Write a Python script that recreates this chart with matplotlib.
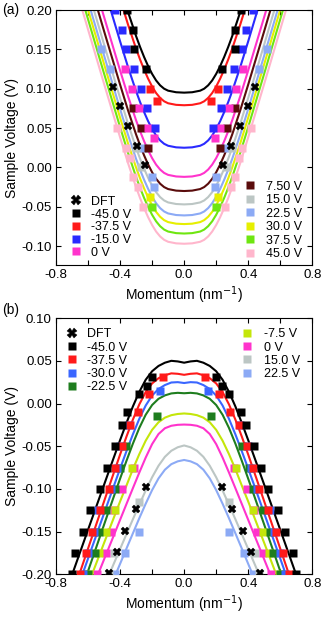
import numpy as np
import matplotlib

matplotlib.use("Agg")
import matplotlib.pyplot as plt
from matplotlib.lines import Line2D

# ---- panel (a): n-type dispersion, half curves (k >= 0), mirrored when drawn
k_a = [0, 0.05, 0.1, 0.125, 0.15, 0.175, 0.2, 0.225, 0.25, 0.275, 0.3, 0.35, 0.4, 0.5, 0.6, 0.7]
a_black = [0.095, 0.0955, 0.0975, 0.1, 0.1043, 0.1105, 0.1188, 0.1288, 0.1403, 0.153, 0.1668, 0.1973, 0.2303, 0.2983, 0.3673, 0.4363]
a_red = [0.079, 0.0795, 0.0815, 0.084, 0.0883, 0.0945, 0.1028, 0.1128, 0.1243, 0.137, 0.1508, 0.1813, 0.2143, 0.2823, 0.3513, 0.4203]
a_blue = [0.025, 0.0255, 0.0275, 0.03, 0.0343, 0.0405, 0.0488, 0.0588, 0.0703, 0.083, 0.0968, 0.1273, 0.1603, 0.2283, 0.2973, 0.3663]
a_magenta = [-0.012, -0.0115, -0.0095, -0.007, -0.0027, 0.0035, 0.0118, 0.0218, 0.0333, 0.046, 0.0598, 0.0903, 0.1233, 0.1913, 0.2603, 0.3293]
a_brown = [-0.03, -0.0295, -0.0275, -0.025, -0.0207, -0.0145, -0.0062, 0.0038, 0.0153, 0.028, 0.0418, 0.0723, 0.1053, 0.1733, 0.2423, 0.3113]
a_gray = [-0.047, -0.0465, -0.0445, -0.042, -0.0377, -0.0315, -0.0232, -0.0132, -0.0017, 0.011, 0.0248, 0.0553, 0.0883, 0.1563, 0.2253, 0.2943]
a_lblue = [-0.061, -0.0605, -0.0585, -0.056, -0.0517, -0.0455, -0.0372, -0.0272, -0.0157, -0.003, 0.0108, 0.0413, 0.0743, 0.1423, 0.2113, 0.2803]
a_yellow = [-0.072, -0.0715, -0.0695, -0.067, -0.0627, -0.0565, -0.0482, -0.0382, -0.0267, -0.014, -0.0002, 0.0303, 0.0633, 0.1313, 0.2003, 0.2693]
a_green = [-0.084, -0.0835, -0.0815, -0.079, -0.0747, -0.0685, -0.0602, -0.0502, -0.0387, -0.026, -0.0122, 0.0183, 0.0513, 0.1193, 0.1883, 0.2573]
a_pink = [-0.097, -0.0965, -0.0945, -0.092, -0.0877, -0.0815, -0.0732, -0.0632, -0.0517, -0.039, -0.0252, 0.0053, 0.0383, 0.1063, 0.1753, 0.2443]

# measured peak positions (|k|, V), drawn on both sides
a_black_pts = [(0.357, 0.200), (0.320, 0.175), (0.315, 0.150), (0.238, 0.125)]
a_red_pts = [(0.210, 0.100), (0.167, 0.085)]
a_blue_pts = [(0.430, 0.200), (0.387, 0.175), (0.360, 0.150), (0.310, 0.125), (0.270, 0.100), (0.230, 0.075), (0.180, 0.050)]
a_magenta_pts = [(0.370, 0.125), (0.325, 0.100), (0.280, 0.075), (0.225, 0.050), (0.190, 0.0375)]
a_brown_pts = [(0.320, 0.075), (0.270, 0.050), (0.225, 0.025)]
a_gray_pts = [(0.300, 0.025), (0.270, 0.000)]
a_lblue_pts = [(0.520, 0.150), (0.465, 0.125), (0.255, 0.025), (0.200, -0.0125), (0.190, -0.025)]
a_yellow_pts = [(0.210, -0.0375)]
a_green_pts = [(0.200, -0.050)]
a_pink_pts = [(0.420, 0.050), (0.360, 0.025), (0.340, 0.0125), (0.320, -0.0125), (0.290, -0.025), (0.255, -0.050)]
a_dft = [(0.445, 0.1025), (0.398, 0.0775), (0.348, 0.0525), (0.292, 0.027), (0.243, 0.003)]

a_labels = ["-45.0 V", "-37.5 V", "-15.0 V", "0 V", "7.50 V", "15.0 V", "22.5 V", "30.0 V", "37.5 V", "45.0 V"]

# ---- panel (b): p-type dispersion
k_b = [0, 0.04, 0.08, 0.12, 0.16, 0.2, 0.24, 0.28, 0.32, 0.36, 0.4, 0.45, 0.5, 0.6, 0.7, 0.8]
b_black = [0.048, 0.0495, 0.0502, 0.048, 0.0442, 0.038, 0.028, 0.0138, -0.0033, -0.0226, -0.0428, -0.0688, -0.0951, -0.1478, -0.2008, -0.2538]
b_red = [0.0338, 0.035, 0.0355, 0.0333, 0.0298, 0.0237, 0.0136, -0.0009, -0.0187, -0.0386, -0.0597, -0.087, -0.1146, -0.1699, -0.2254, -0.2809]
b_blue = [0.0242, 0.0252, 0.0248, 0.0218, 0.0172, 0.0095, -0.0022, -0.0178, -0.036, -0.0557, -0.0762, -0.1023, -0.1287, -0.1816, -0.2346, -0.2876]
b_green = [0.0122, 0.0127, 0.012, 0.0097, 0.0057, -0.0016, -0.013, -0.0285, -0.0469, -0.067, -0.088, -0.1148, -0.1419, -0.1963, -0.2508, -0.3053]
b_yg = [-0.0115, -0.0121, -0.0135, -0.0164, -0.0218, -0.0307, -0.0434, -0.0592, -0.0768, -0.096, -0.1147, -0.139, -0.1633, -0.2123, -0.2613, -0.3103]
b_magenta = [-0.0245, -0.0248, -0.0259, -0.0288, -0.0356, -0.0474, -0.0632, -0.0808, -0.0991, -0.1176, -0.1362, -0.1595, -0.1826, -0.2291, -0.2756, -0.3221]
b_gray = [-0.049, -0.0511, -0.0552, -0.0623, -0.0728, -0.0863, -0.1018, -0.1184, -0.1355, -0.1529, -0.1704, -0.1923, -0.2143, -0.2583, -0.3023, -0.3463]
b_lblue = [-0.066, -0.0676, -0.0709, -0.0774, -0.0876, -0.1013, -0.1173, -0.1343, -0.152, -0.1698, -0.1878, -0.2102, -0.2327, -0.2777, -0.3227, -0.3677]

b_black_pts = [(0.198, 0.031), (0.234, 0.021), (0.279, 0.011), (0.358, -0.010), (0.388, -0.025), (0.434, -0.050), (0.479, -0.075), (0.524, -0.100), (0.588, -0.125), (0.630, -0.150), (0.679, -0.175), (0.700, -0.200)]
b_red_pts = [(0.132, 0.031), (0.218, 0.011), (0.288, -0.010), (0.340, -0.025), (0.390, -0.050), (0.431, -0.075), (0.467, -0.100), (0.525, -0.125), (0.575, -0.150), (0.615, -0.175), (0.652, -0.200)]
b_blue_pts = [(0.150, 0.015), (0.346, -0.025), (0.400, -0.050), (0.420, -0.075), (0.456, -0.100), (0.537, -0.125), (0.560, -0.150), (0.600, -0.175), (0.630, -0.200)]
b_green_pts = [(0.170, -0.015), (0.360, -0.050), (0.402, -0.075), (0.431, -0.100), (0.490, -0.125), (0.533, -0.150), (0.555, -0.175), (0.600, -0.200)]
b_yg_pts = [(0.325, -0.075), (0.430, -0.125), (0.490, -0.150), (0.530, -0.175), (0.595, -0.200)]
b_magenta_pts = [(0.310, -0.075), (0.390, -0.100), (0.435, -0.125), (0.455, -0.150), (0.490, -0.175), (0.544, -0.200)]
b_gray_pts = [(0.280, -0.115), (0.440, -0.175), (0.470, -0.200)]
b_lblue_pts = [(0.280, -0.150), (0.372, -0.175), (0.432, -0.200)]
b_dft = [(0.235, -0.098), (0.300, -0.124), (0.367, -0.149), (0.420, -0.174), (0.471, -0.199)]

b_labels = ["-45.0 V", "-37.5 V", "-30.0 V", "-22.5 V", "-7.5 V", "0 V", "15.0 V", "22.5 V"]

BLACK, RED, BLUE, MAGENTA = "#000000", "#ff1a1a", "#2a2aff", "#ff33cc"
BROWN, GRAY, LBLUE = "#5a0c0c", "#bcc6c4", "#8caaf5"
YELLOW, GREEN, PINK = "#e6ef00", "#6ee610", "#ffb6cc"
BBLUE, DGREEN, YGREEN = "#3a66ff", "#1e7d1e", "#c4e60a"

plt.rcParams["font.family"] = ["Liberation Sans", "DejaVu Sans"]
plt.rcParams["axes.unicode_minus"] = False
plt.rcParams["xtick.direction"] = "in"
plt.rcParams["ytick.direction"] = "in"
plt.rcParams["xtick.top"] = True
plt.rcParams["ytick.right"] = True


def mirror(k, v):
    k = np.asarray(k)
    v = np.asarray(v)
    return np.r_[-k[::-1], k[1:]], np.r_[v[::-1], v[1:]]


def both_sides(pts):
    p = np.asarray(pts)
    return np.r_[-p[:, 0], p[:, 0]], np.r_[p[:, 1], p[:, 1]]


def style_axes(ax, ylim, yticks):
    ax.set_xlim(-0.8, 0.8)
    ax.set_ylim(*ylim)
    ax.set_xticks([-0.8, -0.4, 0.0, 0.4, 0.8])
    ax.set_xticks([-0.6, -0.2, 0.2, 0.6], minor=True)
    ax.set_yticks(yticks)
    ax.set_xticklabels(["%.1f" % t for t in [-0.8, -0.4, 0.0, 0.4, 0.8]])
    ax.set_yticklabels(["%.2f" % t for t in yticks])
    ax.tick_params(which="both", length=3.5, width=0.8, labelsize=9.5, pad=3)
    for s in ax.spines.values():
        s.set_linewidth(0.8)
    ax.set_xlabel("Momentum (nm$^{-1}$)", fontsize=10, labelpad=2)
    ax.set_ylabel("Sample Voltage (V)", fontsize=10, labelpad=2)


def square(color):
    return Line2D([], [], ls="none", marker="s", ms=5.5, color=color, mec="none")


dft_handle = Line2D([], [], ls="none", marker="X", ms=6.5, color="black", mec="black", mew=0.3)

fig = plt.figure(figsize=(3.28, 6.18), dpi=100)
ax_a = fig.add_axes([0.1707, 0.5712, 0.7814, 0.4126])
ax_b = fig.add_axes([0.1707, 0.0707, 0.7814, 0.4142])

# panel (a)
a_series = [
    (a_black, a_black_pts, BLACK), (a_red, a_red_pts, RED), (a_blue, a_blue_pts, BLUE),
    (a_magenta, a_magenta_pts, MAGENTA), (a_brown, a_brown_pts, BROWN), (a_gray, a_gray_pts, GRAY),
    (a_lblue, a_lblue_pts, LBLUE), (a_yellow, a_yellow_pts, YELLOW), (a_green, a_green_pts, GREEN),
    (a_pink, a_pink_pts, PINK),
]
for curve, pts, color in a_series[::-1]:
    x, y = mirror(k_a, curve)
    ax_a.plot(x, y, color=color, lw=1.5, zorder=2)
for curve, pts, color in a_series[::-1]:
    x, y = both_sides(pts)
    ax_a.plot(x, y, ls="none", marker="s", ms=5.2, color=color, mec="none", zorder=3)
x, y = both_sides(a_dft)
ax_a.plot(x, y, ls="none", marker="X", ms=6, color="black", mec="black", mew=0.3, zorder=4)
style_axes(ax_a, (-0.124, 0.2), [0.20, 0.15, 0.10, 0.05, 0.00, -0.05, -0.10])

colors_a = [c for _, _, c in a_series]
leg1 = ax_a.legend([dft_handle] + [square(c) for c in colors_a[:4]], ["DFT"] + a_labels[:4],
                   loc="lower left", bbox_to_anchor=(0.015, -0.015), frameon=False, fontsize=9,
                   handlelength=1.0, handletextpad=0.7, labelspacing=0.06, borderpad=0.3)
ax_a.add_artist(leg1)
ax_a.legend([square(c) for c in colors_a[4:]], a_labels[4:],
            loc="lower right", bbox_to_anchor=(1.0, -0.02), frameon=False, fontsize=9,
            handlelength=1.0, handletextpad=0.8, labelspacing=0.12, borderpad=0.3)

# panel (b)
b_series = [
    (b_black, b_black_pts, BLACK), (b_red, b_red_pts, RED), (b_blue, b_blue_pts, BBLUE),
    (b_green, b_green_pts, DGREEN), (b_yg, b_yg_pts, YGREEN), (b_magenta, b_magenta_pts, MAGENTA),
    (b_gray, b_gray_pts, GRAY), (b_lblue, b_lblue_pts, LBLUE),
]
for curve, pts, color in b_series[::-1]:
    x, y = mirror(k_b, curve)
    ax_b.plot(x, y, color=color, lw=1.5, zorder=2)
for curve, pts, color in b_series[::-1]:
    x, y = both_sides(pts)
    ax_b.plot(x, y, ls="none", marker="s", ms=5.2, color=color, mec="none", zorder=3)
x, y = both_sides(b_dft)
ax_b.plot(x, y, ls="none", marker="X", ms=6, color="black", mec="black", mew=0.3, zorder=4)
style_axes(ax_b, (-0.2, 0.1), [0.10, 0.05, 0.00, -0.05, -0.10, -0.15, -0.20])

colors_b = [c for _, _, c in b_series]
leg2 = ax_b.legend([dft_handle] + [square(c) for c in colors_b[:4]], ["DFT"] + b_labels[:4],
                   loc="upper left", bbox_to_anchor=(0.0, 1.0), frameon=False, fontsize=9,
                   handlelength=1.0, handletextpad=0.7, labelspacing=0.1, borderpad=0.3)
ax_b.add_artist(leg2)
ax_b.legend([square(c) for c in colors_b[4:]], b_labels[4:],
            loc="upper right", bbox_to_anchor=(0.99, 1.0), frameon=False, fontsize=9,
            handlelength=1.0, handletextpad=0.8, labelspacing=0.1, borderpad=0.3)

fig.text(0.008, 0.995, "(a)", fontsize=10, va="top", ha="left")
fig.text(0.008, 0.51, "(b)", fontsize=10, va="top", ha="left")

fig.savefig("out.png", dpi=100)
plt.close(fig)
